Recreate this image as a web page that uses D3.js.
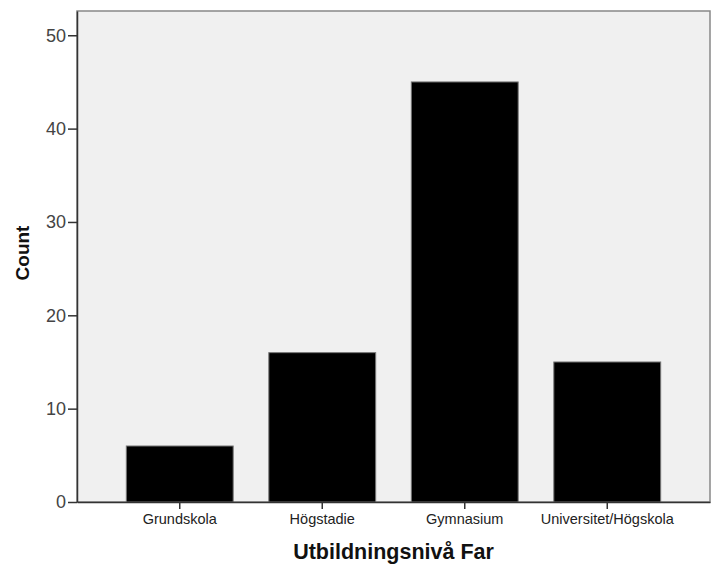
<!DOCTYPE html>
<html><head><meta charset="utf-8">
<script src="https://cdn.jsdelivr.net/npm/d3@7"></script>
<style>body{margin:0;background:#fff}</style>
</head><body>
<svg id="c" width="714" height="567"></svg>
<script>
const categories = ["Grundskola","Högstadie","Gymnasium","Universitet/Högskola"];
const counts = [6,16,45,15];
const yTicks = [0,10,20,30,40,50];
const xTitle = "Utbildningsnivå Far";
const yTitle = "Count";

const svg = d3.select("#c");
const L=77, R=710, T=11, B=502;
const x = d3.scaleBand().domain(categories).range([L,R]).paddingInner(0.25).paddingOuter(0.346);
const y = d3.scaleLinear().domain([0,52.6]).range([B,T]);
const font = "Arial, Liberation Sans, sans-serif";

svg.append("rect").attr("x",L).attr("y",T).attr("width",R-L).attr("height",B-T)
  .attr("fill","#f0f0f0").attr("stroke","#888").attr("stroke-width",1.5);

svg.selectAll("rect.bar").data(categories).enter().append("rect").attr("class","bar")
  .attr("x",d=>x(d)).attr("width",x.bandwidth())
  .attr("y",(d,i)=>y(counts[i])).attr("height",(d,i)=>B-y(counts[i]))
  .attr("fill","#000").attr("stroke","#777").attr("stroke-width",1);

const ya = svg.append("g").attr("transform",`translate(${L},0)`)
  .call(d3.axisLeft(y).tickValues(yTicks).tickSize(9).tickPadding(2).tickSizeOuter(0));
ya.select(".domain").attr("stroke","#333").attr("stroke-width",1.5);
ya.selectAll(".tick line").attr("stroke","#333").attr("stroke-width",1.5);
ya.selectAll(".tick text").attr("font-family",font).attr("font-size",18).attr("fill","#444");

const xa = svg.append("g").attr("transform",`translate(0,${B})`)
  .call(d3.axisBottom(x).tickSize(7).tickPadding(5).tickSizeOuter(0));
xa.select(".domain").attr("stroke","#333").attr("stroke-width",1.5);
xa.selectAll(".tick line").attr("stroke","#333").attr("stroke-width",1.5);
xa.selectAll(".tick text").attr("font-family",font).attr("font-size",14.5).attr("fill","#222");

svg.append("text").attr("x",(L+R)/2).attr("y",559).attr("text-anchor","middle")
  .attr("font-family",font).attr("font-weight","bold").attr("font-size",21.5).attr("fill","#111").text(xTitle);
svg.append("text").attr("transform",`translate(29,253) rotate(-90)`).attr("text-anchor","middle")
  .attr("font-family",font).attr("font-weight","bold").attr("font-size",19).attr("fill","#111").text(yTitle);
</script>
</body></html>
